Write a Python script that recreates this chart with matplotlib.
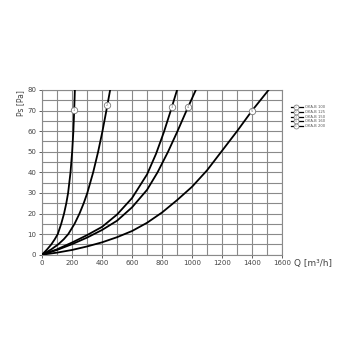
import matplotlib
matplotlib.use('Agg')
import matplotlib.pyplot as plt
import numpy as np

# curves: Q [m3/h] vs Ps [Pa]
names = ['OKA-B 100', 'OKA-B 125', 'OKA-B 150', 'OKA-B 160', 'OKA-B 200']

q_100 = [0, 33, 62, 85, 105, 128, 147, 162, 174, 190, 201, 209, 214.5, 219]
ps_100 = [0, 2.5, 5, 7.5, 10, 15, 20, 25, 30, 40, 50, 60, 70, 80]

q_125 = [0, 60, 108, 145, 175, 217, 250, 278, 302, 341, 374, 403, 429, 454]
ps_125 = [0, 2.5, 5, 7.5, 10, 15, 20, 25, 30, 40, 50, 60, 70, 80]

q_150 = [0, 100, 200, 300, 400, 500, 600, 700, 760, 812, 858, 900]
ps_150 = [0, 2.6, 5.9, 9.5, 13.5, 19.5, 27.5, 39, 49, 59.5, 70, 80]

q_160 = [0, 100, 200, 300, 400, 500, 600, 700, 770, 840, 903, 963, 1025]
ps_160 = [0, 2.3, 5.1, 8.3, 12, 16.5, 23, 31.5, 40, 50, 60, 70, 80]

q_200 = [0, 100, 200, 300, 400, 500, 600, 700, 800, 900, 1000, 1100, 1200,
         1300, 1400, 1510]
ps_200 = [0, 1, 2.3, 4, 6, 8.5, 11.5, 15.5, 20.5, 26.5, 33, 41, 50.5, 60,
          70, 80]

# numbered circles on the curves
mark_q = [213, 435, 866, 973, 1398]
mark_ps = [70.3, 72.5, 71.6, 71.8, 69.8]

curves = [(q_100, ps_100), (q_125, ps_125), (q_150, ps_150),
          (q_160, ps_160), (q_200, ps_200)]

grid_col = '#8a8a8a'
txt_col = '#444444'

fig = plt.figure(figsize=(3.5, 3.5), dpi=100)
ax = fig.add_axes([0.12, 0.2723, 0.686, 0.4706])

for q, ps in curves:
    ax.plot(q, ps, color='black', lw=1.3, solid_joinstyle='round', zorder=3)

for i in range(len(mark_q)):
    ax.plot(mark_q[i], mark_ps[i], 'o', ms=4.6, mfc='white', mec='#777777',
            mew=0.6, zorder=4)
    ax.text(mark_q[i], mark_ps[i], str(i + 1), fontsize=2.6, color='#777777',
            ha='center', va='center', zorder=5)

ax.set_xlim(0, 1600)
ax.set_ylim(0, 80)
ax.set_xticks(np.arange(0, 1601, 200))
ax.set_yticks(np.arange(0, 81, 10))
ax.set_xticks(np.arange(0, 1601, 100), minor=True)
ax.set_yticks(np.arange(0, 81, 5), minor=True)
ax.grid(which='both', color=grid_col, lw=0.8)
ax.set_axisbelow(True)
ax.tick_params(which='major', labelsize=5, colors=txt_col, length=2,
               width=0.6, pad=2)
ax.tick_params(which='minor', length=0)
for s in ax.spines.values():
    s.set_color(grid_col)
    s.set_linewidth(0.8)

ax.text(1.05, -0.055, 'Q [m³/h]', transform=ax.transAxes, fontsize=6.5,
        color=txt_col, ha='left', va='center')
ax.text(-0.09, 1.0, 'Ps [Pa]', transform=ax.transAxes, fontsize=5.5,
        color=txt_col, ha='center', va='top', rotation=90)

# legend drawn by hand
row_y = [0.897, 0.867, 0.838, 0.81, 0.781]
for i, name in enumerate(names):
    y = row_y[i]
    ax.plot([1.0375, 1.085], [y, y], color='black', lw=0.9,
            transform=ax.transAxes, clip_on=False)
    ax.plot(1.058, y, 'o', ms=3.6, mfc='white', mec='#777777', mew=0.5,
            transform=ax.transAxes, clip_on=False)
    ax.text(1.058, y, str(i + 1), fontsize=2.1, color='#777777',
            ha='center', va='center', transform=ax.transAxes)
    ax.text(1.097, y, name, fontsize=2.7, color='#555555', ha='left',
            va='center', transform=ax.transAxes)

fig.savefig('out.png', dpi=100)
